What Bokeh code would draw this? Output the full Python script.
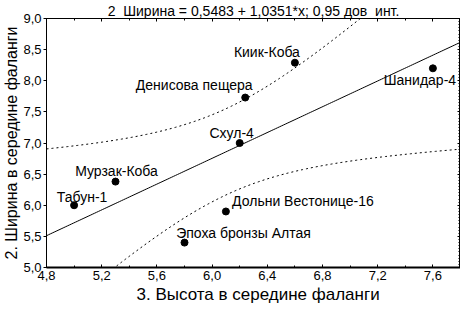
import numpy as np
from bokeh.plotting import figure
from bokeh.models import (LinearAxis, SingleIntervalTicker, CustomJSTickFormatter,
                          ColumnDataSource, Range1d, Title)
from bokeh.embed import file_html
from bokeh.resources import INLINE
from bokeh.core.properties import value

# ---- data ----
sites = ["Табун-1", "Мурзак-Коба", "Эпоха бронзы Алтая", "Дольни Вестонице-16",
         "Схул-4", "Денисова пещера", "Киик-Коба", "Шанидар-4"]
height_mid = [5.0, 5.3, 5.8, 6.1, 6.2, 6.24, 6.6, 7.6]
width_mid = [6.0, 6.38, 5.4, 5.9, 7.0, 7.73, 8.29, 8.2]

title_text = "2\u00a0\u00a0Ширина = 0,5483 + 1,0351*x; 0,95 дов\u00a0\u00a0инт."
x_label = "3. Высота в середине фаланги"
y_label = "2. Ширина в середине фаланги"

# label placement (screen px), styling only
label_dx = [8, 1, 59, 77, -8, -51, -28, -13]
label_dy = [-8, -11, -10, -10, -10, -13, -11, 12]

# ---- regression and 95% confidence band for the mean ----
xa = np.array(height_mid)
ya = np.array(width_mid)
n = len(xa)
b1, b0 = np.polyfit(xa, ya, 1)
resid = ya - (b0 + b1 * xa)
s = np.sqrt(np.sum(resid ** 2) / (n - 2))
sxx = np.sum((xa - xa.mean()) ** 2)
t_crit = 2.4469  # t(0.975, df=6)
xg = np.linspace(4.8, 7.8, 200)
fit = b0 + b1 * xg
half = t_crit * s * np.sqrt(1.0 / n + (xg - xa.mean()) ** 2 / sxx)

FONT = "Liberation Sans"

p = figure(width=460, height=303, output_backend="svg", toolbar_location=None,
           x_range=Range1d(4.8, 7.8), y_range=Range1d(5.0, 9.0),
           min_border_left=0, min_border_right=0, min_border_top=0, min_border_bottom=0,
           y_axis_label=y_label)
p.background_fill_color = "white"
p.border_fill_color = "white"
p.outline_line_color = "black"
p.outline_line_width = 1
p.grid.visible = False

fmt = CustomJSTickFormatter(code="return tick.toFixed(1).replace('.', ',');")
blank = CustomJSTickFormatter(code="return '';")

xa_ax = p.xaxis[0]
xa_ax.ticker = SingleIntervalTicker(interval=0.4, num_minor_ticks=2)
xa_ax.formatter = fmt
xa_ax.major_tick_in = 3
xa_ax.major_tick_out = 0
xa_ax.minor_tick_in = 2
xa_ax.minor_tick_out = 0
xa_ax.axis_line_width = 2
xa_ax.major_label_standoff = 3

ya_ax = p.yaxis[0]
ya_ax.ticker = SingleIntervalTicker(interval=0.5, num_minor_ticks=0)
ya_ax.formatter = fmt
ya_ax.major_tick_in = 0
ya_ax.major_tick_out = 3
ya_ax.minor_tick_in = 0
ya_ax.minor_tick_out = 0
ya_ax.major_label_standoff = 2
ya_ax.axis_label_standoff = 0

for ax in (xa_ax, ya_ax):
    ax.major_label_text_font = FONT
    ax.major_label_text_font_size = "13px"
    ax.major_label_text_color = "black"
    ax.axis_label_text_font = FONT
    ax.axis_label_text_font_size = "16px"
    ax.axis_label_text_font_style = "normal"
    ax.axis_label_text_color = "black"
    ax.axis_line_color = "black"
    ax.major_tick_line_color = "black"
    ax.minor_tick_line_color = "black"

top_ax = LinearAxis(ticker=SingleIntervalTicker(interval=0.4, num_minor_ticks=2),
                    formatter=blank, major_label_standoff=0,
                    major_tick_in=3, major_tick_out=0, minor_tick_in=2, minor_tick_out=0,
                    axis_line_color="black")
right_ax = LinearAxis(ticker=SingleIntervalTicker(interval=0.5, num_minor_ticks=10),
                      formatter=blank, major_label_standoff=0,
                      major_tick_in=3, major_tick_out=0, minor_tick_in=2, minor_tick_out=0,
                      axis_line_color="black", axis_line_width=2)
p.add_layout(top_ax, "above")
p.add_layout(right_ax, "right")

p.title.text = title_text
p.title.align = "center"
p.title.text_font = FONT
p.title.text_font_size = "14px"
p.title.text_font_style = "normal"
p.title.text_color = "black"
p.title.standoff = 0

# x-axis title placed below the tick labels
p.add_layout(Title(text=x_label, align="left", offset=90, standoff=0,
                   text_font=FONT, text_font_size="17px", text_font_style="normal",
                   text_color="black"), "below")

# confidence band and fit
p.line(xg, fit + half, line_color="black", line_width=1, line_dash="2 3")
p.line(xg, fit - half, line_color="black", line_width=1, line_dash="2 3")
p.line(xg, fit, line_color="black", line_width=1)

src = ColumnDataSource(dict(x=height_mid, y=width_mid, name=sites, dx=label_dx, dy=label_dy))
p.scatter("x", "y", source=src, size=7, color="black")
p.text("x", "y", text="name", source=src, x_offset="dx", y_offset="dy",
       text_font=value(FONT), text_font_size="14px", text_align="center",
       text_baseline="middle", text_color="black")

open("out.html", "w").write(file_html(p, INLINE))
